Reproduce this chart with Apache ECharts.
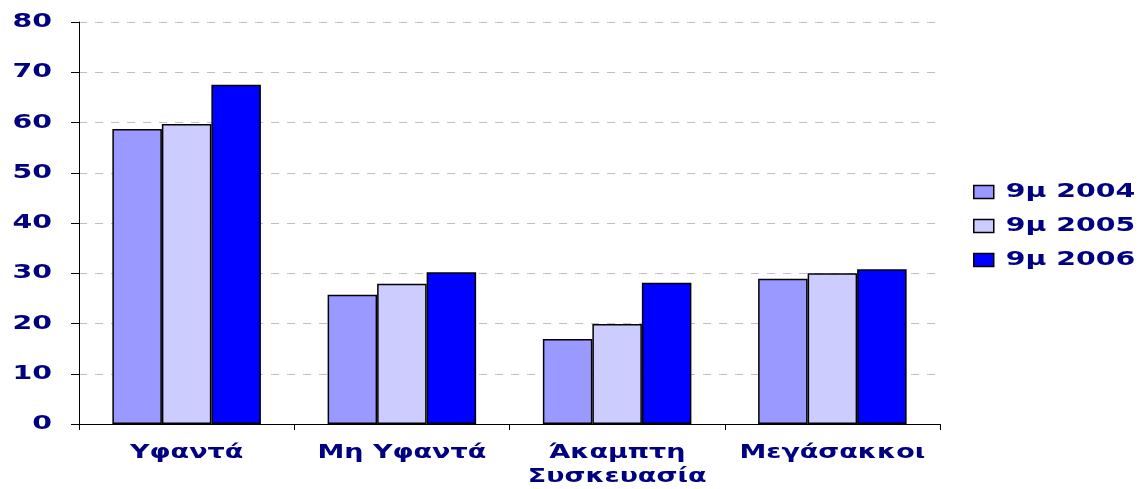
<!DOCTYPE html>
<html><head><meta charset="utf-8">
<script src="https://cdn.jsdelivr.net/npm/echarts@6/dist/echarts.min.js"></script>
<style>html,body{margin:0;padding:0;background:#fff}#c{width:1139px;height:489px}</style>
</head><body><div id="c"></div>
<script>
const categories = ['Υφαντά', 'Μη Υφαντά', 'Άκαμπτη\nΣυσκευασία', 'Μεγάσακκοι'];
const seriesNames = ['9μ 2004', '9μ 2005', '9μ 2006'];
const values2004 = [58.7, 25.7, 16.9, 28.9];
const values2005 = [59.7, 27.9, 19.9, 30.0];
const values2006 = [67.5, 30.2, 28.1, 30.8];
const yTicks = [0, 10, 20, 30, 40, 50, 60, 70, 80];
const colors = ['#9999ff', '#ccccff', '#0000ff'];
const txt = '#000080';
const font = 'DejaVu Sans';

// The reference text is horizontally stretched; widen glyphs around their anchor when drawn.
const SX = 1.42;
const origFill = CanvasRenderingContext2D.prototype.fillText;
CanvasRenderingContext2D.prototype.fillText = function (t, x, y, mw) {
  this.save();
  this.translate(x, y);
  this.scale(SX, 1);
  if (mw !== undefined) origFill.call(this, t, 0, 0, mw / SX);
  else origFill.call(this, t, 0, 0);
  this.restore();
};

const chart = echarts.init(document.getElementById('c'));
const data = [values2004, values2005, values2006];
chart.setOption({
  animation: false,
  grid: { left: 79, right: 199, top: 22, bottom: 65, outerBoundsMode: 'none' },
  legend: {
    orient: 'vertical', left: 973, top: 182, padding: 0, itemWidth: 20, itemHeight: 13, itemGap: 14,
    icon: 'rect',
    textStyle: { color: txt, fontFamily: font, fontWeight: 'bold', fontSize: 20, padding: [0, 0, 0, 7] },
    data: seriesNames.map((n, i) => ({ name: n, itemStyle: { color: colors[i], borderColor: '#000', borderWidth: 1.5 } }))
  },
  xAxis: {
    type: 'category', data: categories,
    axisLine: { lineStyle: { color: '#000', width: 1 } },
    axisTick: { show: true, length: 6, lineStyle: { color: '#000' } },
    axisLabel: { color: txt, fontFamily: font, fontWeight: 'bold', fontSize: 19, margin: 17, lineHeight: 24, interval: 0 }
  },
  yAxis: {
    type: 'value', min: yTicks[0], max: yTicks[yTicks.length - 1], interval: 10,
    axisLine: { show: true, lineStyle: { color: '#000', width: 1 } },
    axisTick: { show: true, length: 8, lineStyle: { color: '#000' } },
    axisLabel: { color: txt, fontFamily: font, fontWeight: 'bold', fontSize: 20, margin: 27 },
    splitLine: { show: true, lineStyle: { color: '#c0c0c0', type: [8, 8], width: 1 } }
  },
  series: seriesNames.map((n, i) => ({
    name: n, type: 'bar', data: data[i], barGap: '0%', barCategoryGap: '31%',
    itemStyle: { color: colors[i], borderColor: '#000', borderWidth: 1.5 }
  }))
});
</script></body></html>
